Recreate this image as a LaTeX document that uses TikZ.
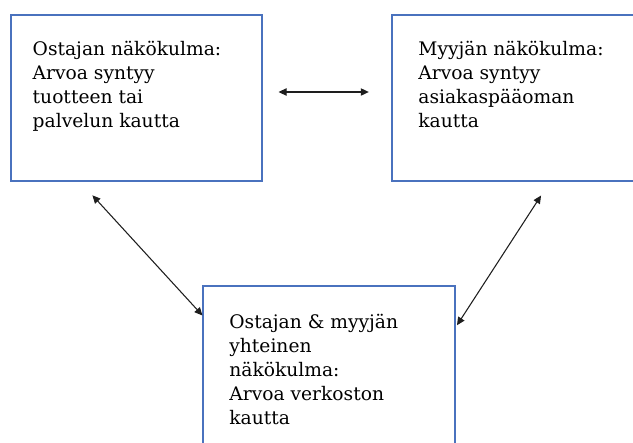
\documentclass[tikz,border=0pt]{standalone}
\usepackage{fontspec}
\setmainfont{DejaVu Serif}
\usepackage{tikz}
\usetikzlibrary{arrows.meta,positioning}
\definecolor{reunaSininen}{HTML}{4A72BE}
\definecolor{nuoliMusta}{HTML}{1E1E1E}

\begin{document}
\begin{tikzpicture}[x=0.75pt, y=-0.75pt,
    laatikko/.style={rectangle, draw=reunaSininen, line width=0.8pt,
                     minimum width=188.25pt, minimum height=124.5pt, inner sep=0pt},
    teksti/.style={anchor=north west, inner sep=0pt, align=left,
                   font=\fontsize{14}{18}\selectfont},
    nuoli/.style={{Triangle[length=6pt,width=5.5pt]}-{Triangle[length=6pt,width=5.5pt]},
                  line width=0.8pt, draw=nuoliMusta}
  ]
  \clip (0,0) rectangle (633,443);
  \node[laatikko] (ostaja) at (136.5,98) {};
  \node[laatikko] (myyja) at (517.5,98) {};
  \node[laatikko, minimum width=189pt, minimum height=127.5pt] (yhteinen) at (329,371) {};

  \node[teksti] (ostajaTeksti) at ([xshift=16.5pt, yshift=-20pt]ostaja.north west)
    {Ostajan näkökulma:\\ Arvoa syntyy\\ tuotteen tai\\ palvelun kautta};
  \node[teksti] (myyjaTeksti) at ([xshift=20pt, yshift=-20pt]myyja.north west)
    {Myyjän näkökulma:\\ Arvoa syntyy\\ asiakaspääoman\\ kautta};
  \node[teksti] (yhteinenTeksti) at ([xshift=20pt, yshift=-21pt]yhteinen.north west)
    {Ostajan \& myyjän\\ yhteinen\\ näkökulma:\\ Arvoa verkoston\\ kautta};

  \draw[nuoli, shorten <=12pt, shorten >=17pt] ([yshift=4.5pt]ostaja.east) -- ([yshift=4.5pt]myyja.west);
  \draw[nuoli, shorten <=14pt] ([xshift=52pt]ostaja.south west) -- ([yshift=-22.5pt]yhteinen.north west);
  \draw[nuoli, shorten <=12.5pt, shorten >=2pt] ([xshift=119pt]myyja.south west) -- ([yshift=-31.5pt]yhteinen.north east);
\end{tikzpicture}
\end{document}
